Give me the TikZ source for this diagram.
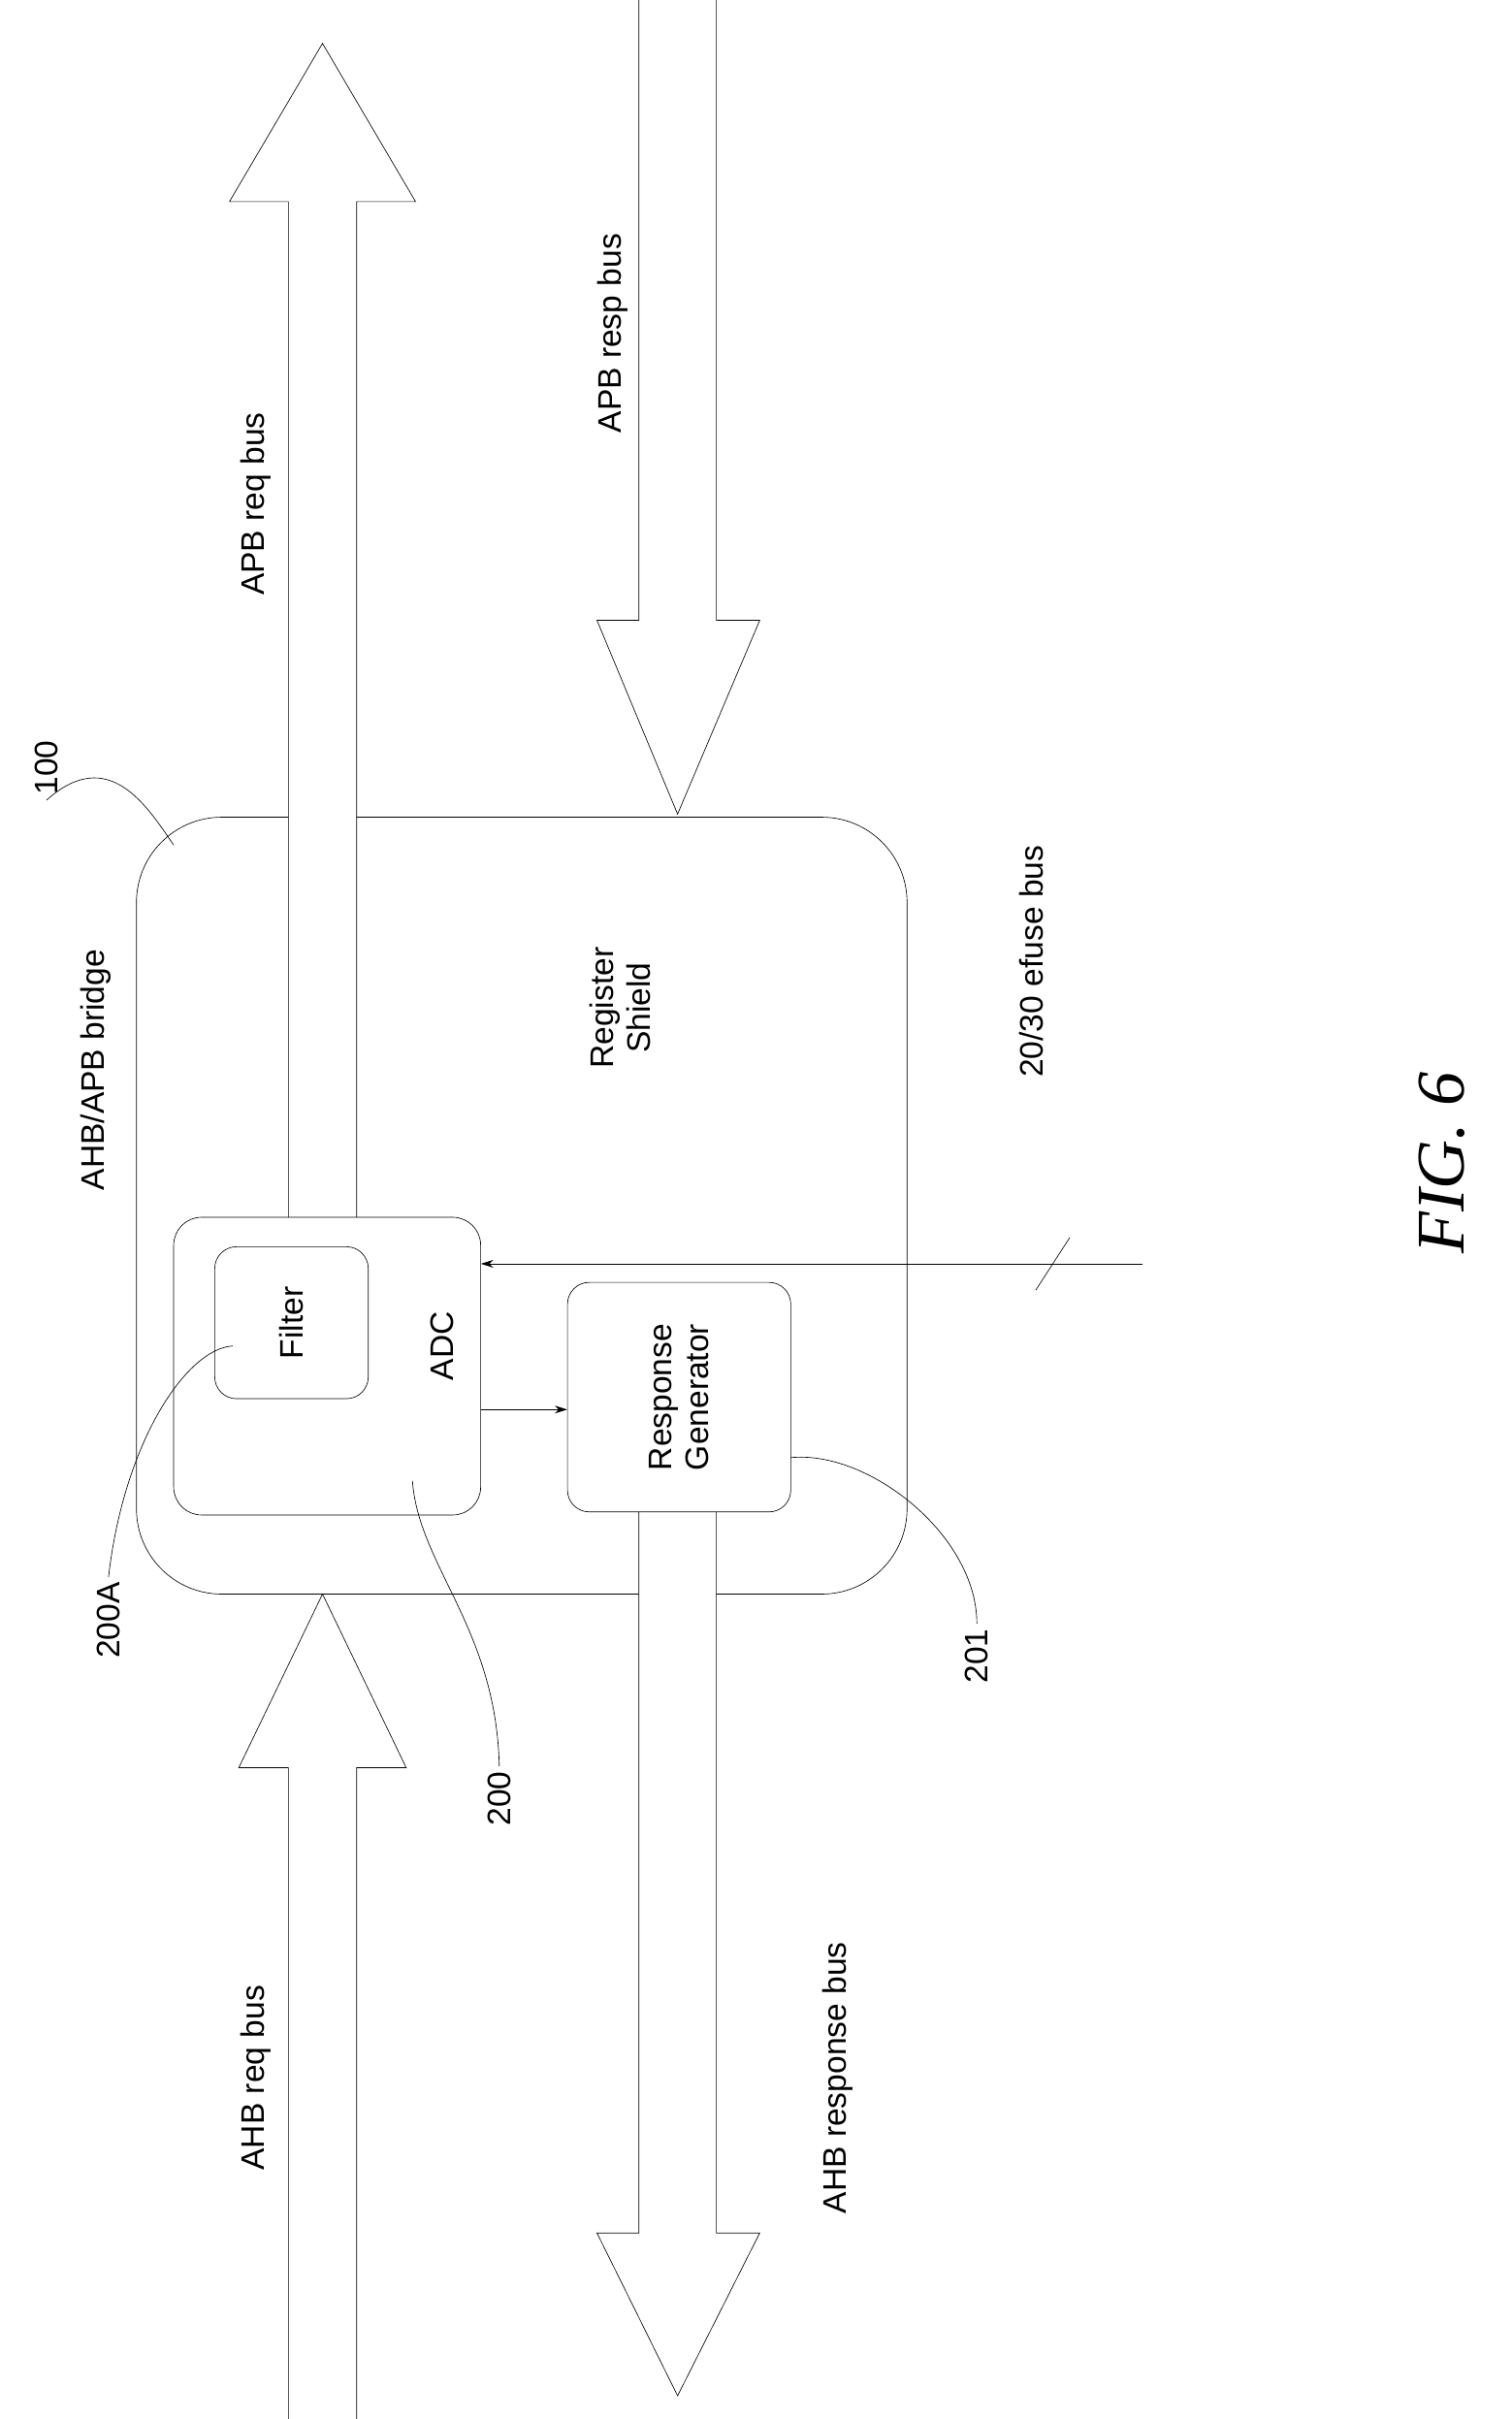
\documentclass[tikz,border=0pt]{standalone}
\usepackage{fontspec}
\setmainfont{Liberation Sans}
\usetikzlibrary{arrows.meta}
\begin{document}
\begin{tikzpicture}[x=1pt,y=-1pt,
bus/.style={thin,fill=white},
block/.style={draw,thin,rounded corners=18pt},
lbl/.style={rotate=90,font=\fontsize{21}{24}\selectfont},
leader/.style={thin}]
\useasboundingbox (0,0) rectangle (975,1560);

% bridge
\draw[thin,rounded corners=55pt] (88,527) rectangle (585,1028);

% buses
\draw[bus] (186,785) -- (186,130) -- (148,130) -- (208,28) -- (268,130) -- (230,130) -- (230,785);
\draw[bus] (412,0) -- (412,400) -- (385,400) -- (437,525) -- (490,400) -- (462,400) -- (462,0);
\draw[bus] (186,1560) -- (186,1140) -- (154,1140) -- (208,1028) -- (262,1140) -- (230,1140) -- (230,1560);
\draw[bus] (412,975) -- (412,1440) -- (385,1440) -- (437,1545) -- (490,1440) -- (462,1440) -- (462,975);

% blocks
\node[block,minimum width=198pt,minimum height=192pt] (adc) at (211,881) {};
\node[block,rounded corners=14pt,minimum width=98pt,minimum height=99pt,lbl] (filter) at (188,853) {Filter};
\node[lbl] (adclbl) at (285,868) {ADC};
\node[block,rounded corners=14pt,minimum width=144pt,minimum height=148pt] (resp) at (438,901) {};
\node[lbl,align=center] at (resp) {Response\\Generator};
\coordinate (efuse) at (737,815);
\draw[-{Stealth[length=8pt,width=5pt]}] (adc.east |- 0,909) -- (resp.west |- 0,909);
\draw[-{Stealth[length=8pt,width=5pt]}] (efuse) -- (adc.east |- efuse);
\draw (668,832) -- (690,798);

% labels
\node[lbl] at (165,1340) {AHB req bus};
\node[lbl] at (540,1340) {AHB response bus};
\node[lbl] at (165,325) {APB req bus};
\node[lbl] at (395,215) {APB resp bus};
\node[lbl] at (62,690) {AHB/APB bridge};
\node[lbl,align=center] at (400,650) {Register\\Shield};
\node[lbl] at (665,620) {20/30 efuse bus};
\node[lbl] (n100) at (30,495) {100};
\node[lbl] (n200A) at (70,1045) {200A};
\node[lbl] (n200) at (322,1160) {200};
\node[lbl] (n201) at (630,1068) {201};
\draw[leader] (n100.west) .. controls (70,480) and (95,520) .. (112,545);
\draw[leader] (n200A.east) .. controls (80,930) and (120,870) .. (150,868);
\draw[leader] (n200.east) .. controls (320,1050) and (270,1010) .. (266,955);
\draw[leader] (n201.east) .. controls (630,990) and (560,935) .. (510,940);
\node[rotate=90,font=\fontsize{44}{48}\selectfont\itshape,
  text=black] (fig) at (930,750) {\setmainfont{Liberation Serif}\itshape FIG. 6};
\end{tikzpicture}
\end{document}
